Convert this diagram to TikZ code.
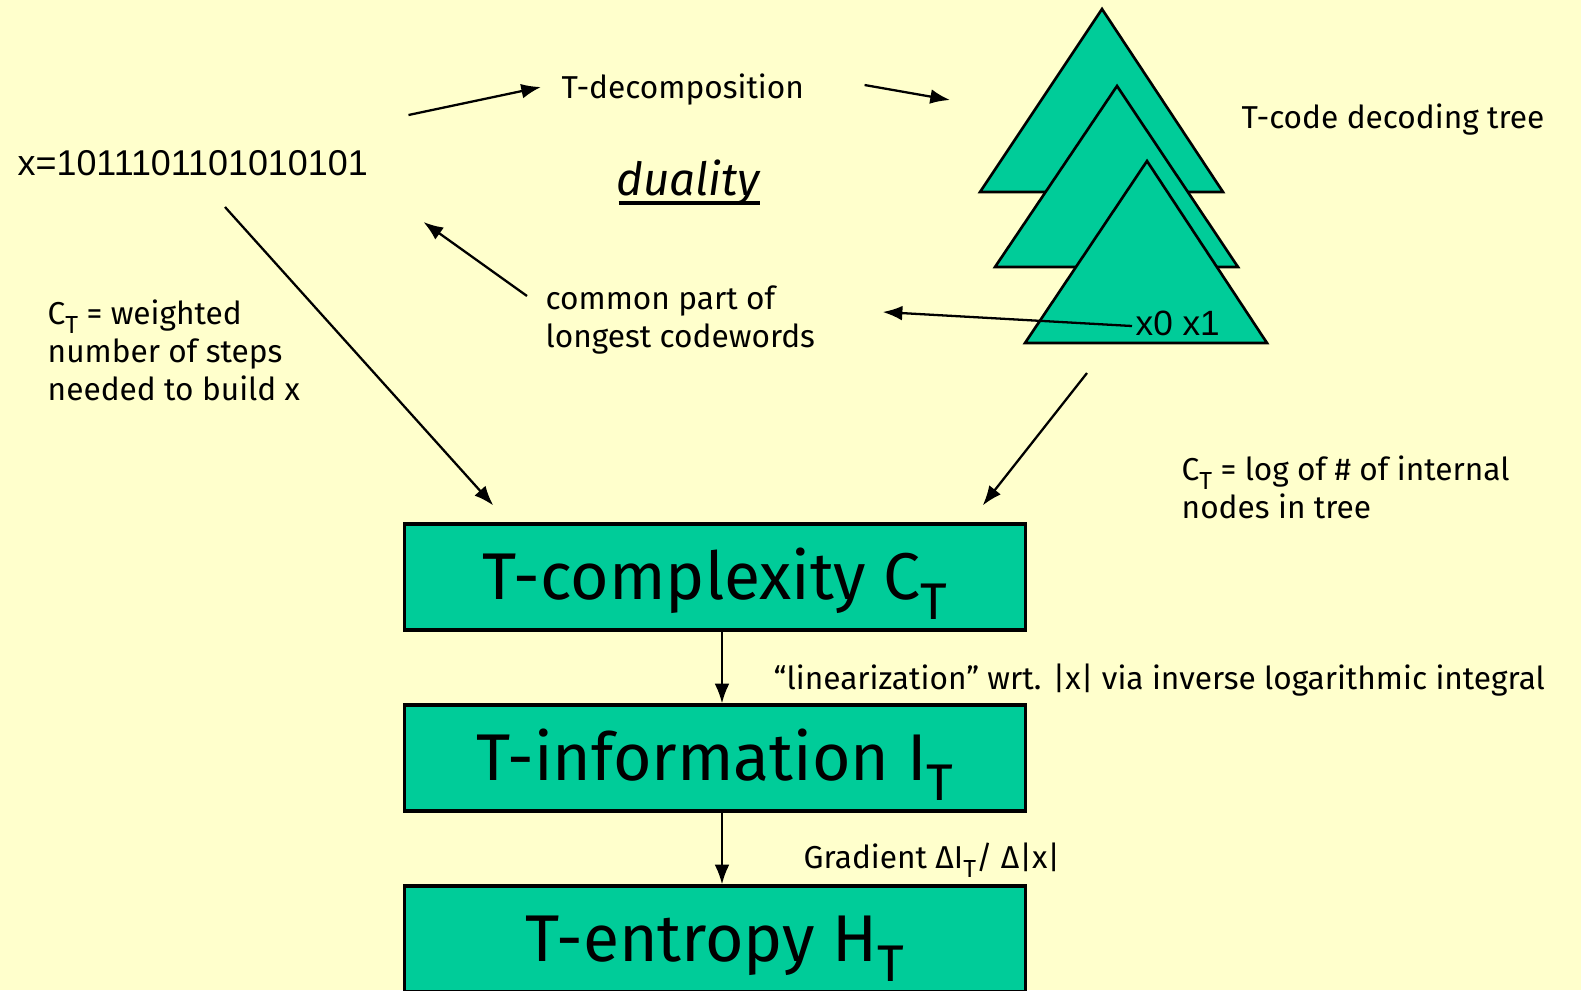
\documentclass[tikz,border=0pt]{standalone}
\usepackage{fontspec}
\setmainfont{Fira Sans}
\newfontfamily\arialfont{Liberation Sans}
\usetikzlibrary{arrows.meta}
\definecolor{bgyellow}{RGB}{255,255,204}
\definecolor{tealfill}{RGB}{0,204,153}
\newcommand{\lowT}{\raisebox{-0.55ex}{\scalebox{0.78}{T}}}

\begin{document}
\begin{tikzpicture}[
    x=0.01cm, y=-0.01cm,
    lbl/.style={inner sep=0pt, align=left, font=\fontsize{9}{10.8}\selectfont},
    bigbox/.style={draw, line width=0.9pt, fill=tealfill, minimum width=6.2cm,
        minimum height=1.06cm, inner sep=0pt, text height=18pt, text depth=5pt,
        font=\fontsize{18.8}{22}\selectfont},
    arr/.style={-{Latex[length=5.6pt,width=4.2pt]}, line width=0.65pt},
    tri/.style={draw, fill=tealfill, line width=0.75pt}
]

    % Background and page size
    \fill[bgyellow] (0,0) rectangle (1581,990);
    \useasboundingbox (0,0) rectangle (1581,990);

    % Define the corners of the three trees
    \coordinate (t1a) at (1102,9);
    \coordinate (t1l) at (980,192);
    \coordinate (t1r) at (1223,192);
    \coordinate (t2a) at (1117,86);
    \coordinate (t2l) at (995,267);
    \coordinate (t2r) at (1238,267);
    \coordinate (t3a) at (1147,161);
    \coordinate (t3l) at (1025,343);
    \coordinate (t3r) at (1267,343);

    % Draw the trees (back to front)
    \draw[tri] (t1a) -- (t1r) -- (t1l) -- cycle;
    \draw[tri] (t2a) -- (t2r) -- (t2l) -- cycle;
    \draw[tri] (t3a) -- (t3r) -- (t3l) -- cycle;

    % Texts
    \node[inner sep=0pt, anchor=west, font=\arialfont\fontsize{10.2}{12}\selectfont] (xstr) at (17,163) {x=1011101101010101};
    \node[lbl, anchor=west] (tdec) at (561,90) {T-decomposition};
    \node[inner sep=0pt, anchor=base, font=\itshape\fontsize{13}{15}\selectfont] (dual) at (688,195) {duality};
    \draw[line width=0.95pt] ([shift={(3,8)}]dual.base west) -- ([shift={(0,8)}]dual.base east);
    \node[lbl, anchor=west] (tree) at (1241,120) {T-code decoding tree};
    \node[lbl, anchor=west] (weight) at (47,350) {C\lowT{} = weighted\\number of steps\\needed to build x};
    \node[lbl, anchor=west] (common) at (545,320) {common part of\\longest codewords};
    \node[inner sep=0pt, anchor=west, font=\arialfont\fontsize{10}{12}\selectfont] (leaves) at (1135,323) {x0 x1};
    \node[lbl, anchor=west] (intern) at (1181,487) {C\lowT{} = log of \# of internal\\nodes in tree};

    % Boxes
    \node[bigbox] (cplx) at (715,577) {T-complexity C\lowT};
    \node[bigbox] (info) at (715,758) {T-information I\lowT};
    \node[bigbox] (entr) at (715,939) {T-entropy H\lowT};

    \node[lbl, anchor=west] (linlbl) at (773,680) {“linearization” wrt. |x| via inverse logarithmic integral};
    \node[lbl, anchor=west] (gradlbl) at (803,860) {Gradient ΔI\lowT/ Δ|x|};

    % Arrows
    \draw[arr] ([shift={(40,-48)}]xstr.east) -- ([shift={(-20,-3)}]tdec.west);
    \draw[arr] ([shift={(60,-5)}]tdec.east) -- ([shift={(-30,-92)}]t1l);
    \draw[arr] ([shift={(-18,-24)}]common.west) -- ([shift={(55,59)}]xstr.east);
    \draw[arr] ([shift={(-3,3)}]leaves.west) -- ([shift={(67,-8)}]common.east);
    \draw[arr] ([shift={(208,44)}]xstr.west) -- ([shift={(90,-17)}]cplx.north west);
    \draw[arr] ([shift={(-60,30)}]t3a |- t3l) -- ([shift={(-44,-17)}]cplx.north east);
    \draw[arr] ([shift={(7,0)}]cplx.south) -- ([shift={(7,0)}]info.north);
    \draw[arr] ([shift={(7,0)}]info.south) -- ([shift={(7,0)}]entr.north);

\end{tikzpicture}
\end{document}
